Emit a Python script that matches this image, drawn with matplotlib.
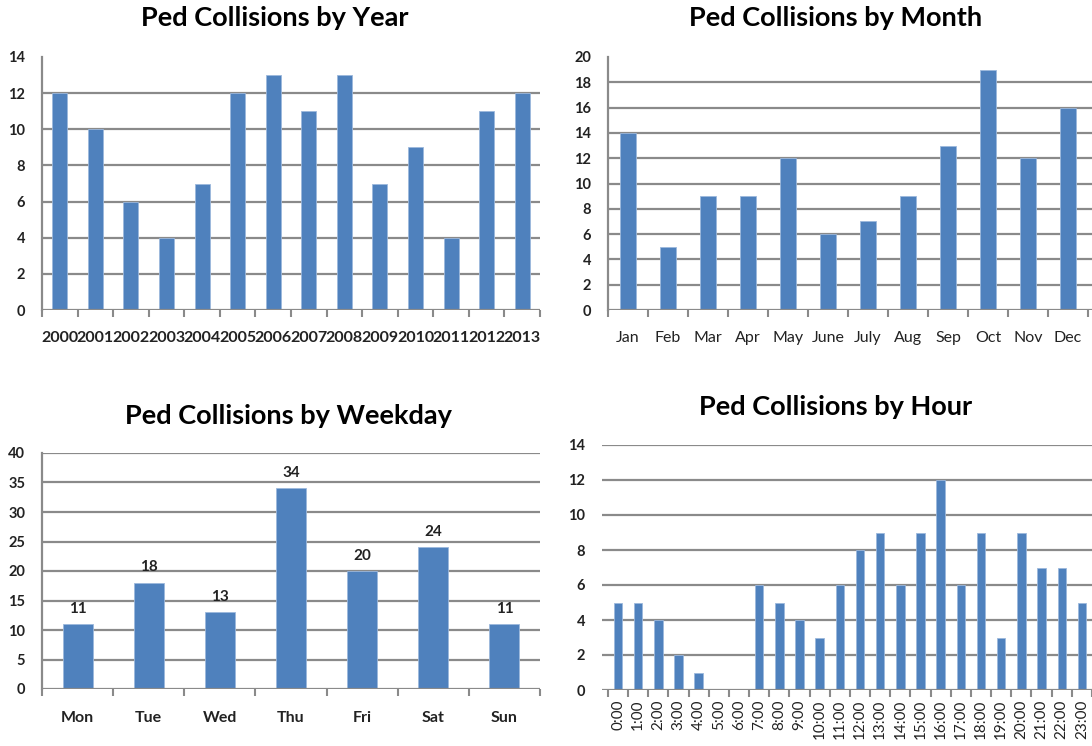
"""Four small Excel-style bar charts of pedestrian collisions."""

import matplotlib.pyplot as plt
import numpy as np

plt.rcParams["font.family"] = ["Lato", "DejaVu Sans"]

years = ["2000", "2001", "2002", "2003", "2004", "2005", "2006",
         "2007", "2008", "2009", "2010", "2011", "2012", "2013"]
year_counts = [12, 10, 6, 4, 7, 12, 13, 11, 13, 7, 9, 4, 11, 12]

months = ["Jan", "Feb", "Mar", "Apr", "May", "June", "July",
          "Aug", "Sep", "Oct", "Nov", "Dec"]
month_counts = [14, 5, 9, 9, 12, 6, 7, 9, 13, 19, 12, 16]

weekdays = ["Mon", "Tue", "Wed", "Thu", "Fri", "Sat", "Sun"]
weekday_counts = [11, 18, 13, 34, 20, 24, 11]

hours = [f"{h}:00" for h in range(24)]
hour_counts = [5, 5, 4, 2, 1, 0, 0, 6, 5, 4, 3, 6, 8, 9, 6, 9, 12, 6, 9, 3, 9, 7, 7, 5]

BAR = "#4F81BD"
GRID = "#8a8a8a"
W, H = 1092, 746
TITLE_SIZE = 19.5


def px_axes(fig, x0, x1, y_top, y_bot):
    return fig.add_axes([x0 / W, 1 - y_bot / H, (x1 - x0) / W, (y_bot - y_top) / H])


def bar_chart(ax, labels, values, ymax, ystep, xlim, top_grid=True, bold=True,
              rot=0, xpad=14, xsize=11.5, show_yaxis=True):
    x = np.arange(len(values))
    ax.bar(x, values, width=0.42, color=BAR, edgecolor="#9cb8dc", linewidth=0.6, zorder=3)
    ax.set_xlim(*xlim)
    ax.set_ylim(0, ymax)
    ticks = np.arange(0, ymax + 0.01, ystep)
    ax.set_yticks(ticks)
    ax.set_yticklabels([f"{t:g}" for t in ticks])
    for t in ticks:
        if t == 0 or (t == ymax and not top_grid):
            continue
        ax.axhline(t, color=GRID, lw=1.6, zorder=1)
    ax.axhline(0, color=GRID, lw=1.6, zorder=4)
    for s in ax.spines.values():
        s.set_visible(False)
    if show_yaxis:
        ax.axvline(xlim[0], color=GRID, lw=1.6, zorder=4, clip_on=False)
    ax.set_xticks(x)
    ax.set_xticklabels(labels, rotation=rot)
    ax.set_xticks(np.arange(len(values) + 1) - 0.5, minor=True)
    ax.tick_params(axis="x", which="major", length=0, pad=xpad, labelsize=xsize)
    ax.tick_params(axis="x", which="minor", length=5, width=1.5, color=GRID)
    ax.tick_params(axis="y", length=0, pad=12, labelsize=10.5)
    weight = "bold" if bold else "normal"
    for lab in ax.get_xticklabels() + ax.get_yticklabels():
        lab.set_fontweight(weight)
        lab.set_color("#222222")
    ax.set_facecolor("none")


fig = plt.figure(figsize=(W / 100, H / 100), dpi=100)

# by year
ax1 = px_axes(fig, 42, 540, 57, 310)
bar_chart(ax1, years, year_counts, 14, 2, (-0.5, 13.5), top_grid=False, xpad=15)
fig.text(275 / W, 1 - 18 / H, "Ped Collisions by Year", ha="center", va="center",
         fontsize=TITLE_SIZE, fontweight="bold")

# by month
ax2 = px_axes(fig, 608, 1092, 57, 310)
bar_chart(ax2, months, month_counts, 20, 2, (-0.5, 11.6), top_grid=False, bold=False,
          xpad=15)
for lab in ax2.get_yticklabels():
    lab.set_fontweight("bold")
fig.text(836 / W, 1 - 18 / H, "Ped Collisions by Month", ha="center", va="center",
         fontsize=TITLE_SIZE, fontweight="bold")

# by weekday
ax3 = px_axes(fig, 42, 540, 453, 689)
bar_chart(ax3, weekdays, weekday_counts, 40, 5, (-0.5, 6.5), xpad=16)
for i, v in enumerate(weekday_counts):
    ax3.annotate(str(v), (i, v), xytext=(0, 6), textcoords="offset points",
                 ha="center", va="bottom", fontsize=11, fontweight="bold", color="#222222")
fig.text(288 / W, 1 - 416 / H, "Ped Collisions by Weekday", ha="center", va="center",
         fontsize=TITLE_SIZE, fontweight="bold")

# by hour
ax4 = px_axes(fig, 602, 1092, 445, 690)
left = -0.5 - 6 / 20.4
bar_chart(ax4, hours, hour_counts, 14, 2, (left, left + 490 / 20.4), bold=False,
          rot=90, xpad=7, xsize=11, show_yaxis=False)
for lab in ax4.get_yticklabels():
    lab.set_fontweight("bold")
ax4.set_xticks(np.arange(25) - 0.5, minor=True)
fig.text(836 / W, 1 - 407 / H, "Ped Collisions by Hour", ha="center", va="center",
         fontsize=TITLE_SIZE, fontweight="bold")

fig.savefig("out.png", dpi=100)
